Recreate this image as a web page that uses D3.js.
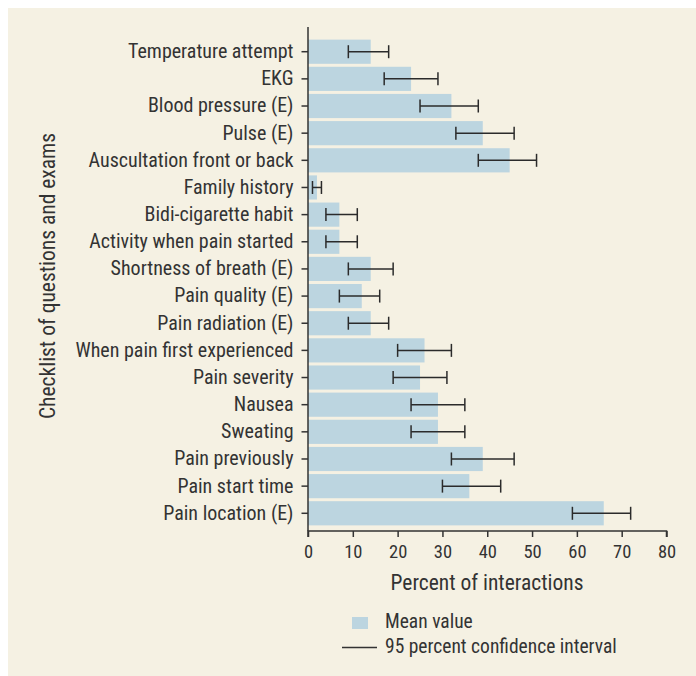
<!DOCTYPE html>
<html>
<head>
<meta charset="utf-8">
<script src="https://cdn.jsdelivr.net/npm/d3@7/dist/d3.min.js"></script>
<style>
  html, body { margin: 0; padding: 0; background: #ffffff; }
  svg text { font-family: "Liberation Sans Narrow", "Roboto Condensed", "Arial Narrow", Roboto, sans-serif; fill: #333; }
</style>
</head>
<body>
<svg id="chart" width="696" height="676"></svg>
<script>
// Checklist items, top to bottom
const items = [
  "Temperature attempt", "EKG", "Blood pressure (E)", "Pulse (E)",
  "Auscultation front or back", "Family history", "Bidi-cigarette habit",
  "Activity when pain started", "Shortness of breath (E)", "Pain quality (E)",
  "Pain radiation (E)", "When pain first experienced", "Pain severity",
  "Nausea", "Sweating", "Pain previously", "Pain start time", "Pain location (E)"
];
// Mean percent of interactions
const meanValues = [14, 23, 32, 39, 45, 2, 7, 7, 14, 12, 14, 26, 25, 29, 29, 39, 36, 66];
// 95 percent confidence interval bounds
const ciLow  = [9, 17, 25, 33, 38, 1, 4, 4, 9, 7, 9, 20, 19, 23, 23, 32, 30, 59];
const ciHigh = [18, 29, 38, 46, 51, 3, 11, 11, 19, 16, 18, 32, 31, 35, 35, 46, 43, 72];
const xTicks = [0, 10, 20, 30, 40, 50, 60, 70, 80];

const svg = d3.select("#chart");

// panel background
svg.append("rect").attr("x", 8).attr("y", 8).attr("width", 688).attr("height", 668)
  .attr("fill", "#f5f1e3");

const plotLeft = 308, plotRight = 666.5, plotTop = 38, plotBottom = 527;
const x = d3.scaleLinear().domain([0, 80]).range([plotLeft, plotRight]);
const y = d3.scaleBand().domain(items).range([plotTop, plotBottom]).paddingInner(0.11).paddingOuter(0.06);

const g = svg.append("g");

// bars
g.selectAll("rect.bar").data(items).join("rect")
  .attr("class", "bar")
  .attr("x", x(0))
  .attr("y", d => y(d))
  .attr("width", (d, i) => x(meanValues[i]) - x(0))
  .attr("height", y.bandwidth())
  .attr("fill", "#bcd5e0");

// confidence interval whiskers
const ci = g.selectAll("g.ci").data(items).join("g").attr("class", "ci")
  .attr("transform", d => `translate(0,${y(d) + y.bandwidth() / 2})`)
  .attr("stroke", "#2b2b2b").attr("stroke-width", 1.5);
ci.append("line").attr("x1", (d, i) => x(ciLow[i])).attr("x2", (d, i) => x(ciHigh[i]));
ci.append("line").attr("x1", (d, i) => x(ciLow[i])).attr("x2", (d, i) => x(ciLow[i])).attr("y1", -6.5).attr("y2", 6.5);
ci.append("line").attr("x1", (d, i) => x(ciHigh[i])).attr("x2", (d, i) => x(ciHigh[i])).attr("y1", -6.5).attr("y2", 6.5);

// y axis
const yAxis = g.append("g").attr("transform", `translate(${plotLeft},0)`)
  .call(d3.axisLeft(y).tickSize(6.5).tickPadding(8));
yAxis.select(".domain").attr("d", `M0,27V531`);
yAxis.selectAll("text").attr("font-size", 20).attr("fill", "#333");
yAxis.selectAll("line, path").attr("stroke", "#333").attr("stroke-width", 1.5);

// x axis
const xAxis = g.append("g").attr("transform", "translate(0,531)")
  .call(d3.axisBottom(x).tickValues(xTicks).tickSize(6).tickPadding(8));
xAxis.select(".domain").attr("d", `M${plotLeft},6V0H${plotRight}V6`);
xAxis.selectAll("text").attr("font-size", 18.5).attr("fill", "#333");
xAxis.selectAll("line, path").attr("stroke", "#333").attr("stroke-width", 1.5);

// axis titles
svg.append("text").attr("x", 487).attr("y", 590).attr("text-anchor", "middle")
  .attr("font-size", 21.5).text("Percent of interactions");
svg.append("text").attr("transform", "translate(55,276) rotate(-90)").attr("text-anchor", "middle")
  .attr("font-size", 21.5).text("Checklist of questions and exams");

// legend
svg.append("rect").attr("x", 352).attr("y", 617).attr("width", 16).attr("height", 12).attr("fill", "#bcd5e0");
svg.append("text").attr("x", 385).attr("y", 628).attr("font-size", 19.5).text("Mean value");
svg.append("line").attr("x1", 342).attr("x2", 377).attr("y1", 647.5).attr("y2", 647.5)
  .attr("stroke", "#333").attr("stroke-width", 1.5);
svg.append("text").attr("x", 385).attr("y", 653).attr("font-size", 19.5).text("95 percent confidence interval");
</script>
</body>
</html>
